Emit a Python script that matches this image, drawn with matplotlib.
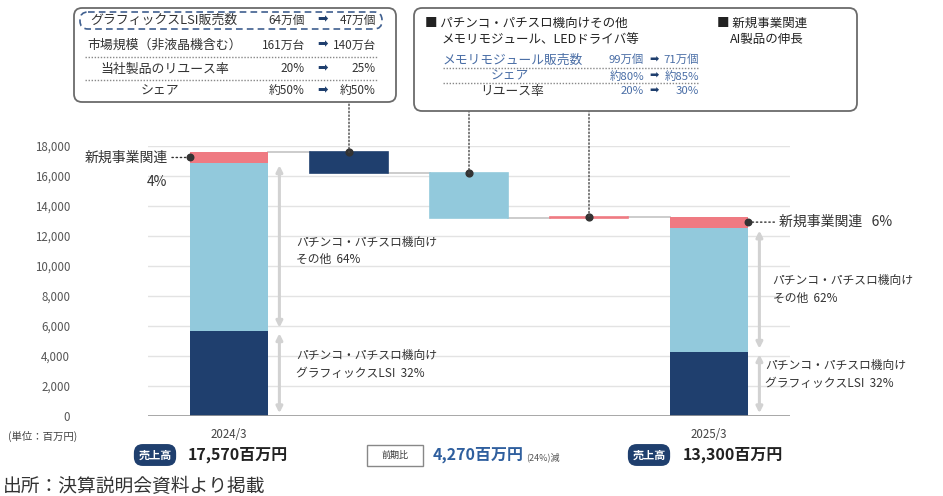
import numpy as np
import matplotlib.pyplot as plt
from matplotlib.patches import FancyBboxPatch, Rectangle, ConnectionPatch
from matplotlib.transforms import blended_transform_factory

plt.rcParams['font.family'] = ['Noto Sans CJK JP', 'DejaVu Sans']

# 売上構成（単位：百万円） 下から グラフィックスLSI / その他 / 新規事業関連
sales_2024 = [5700, 11200, 670]
sales_2025 = [4300, 8250, 750]
share_2024 = ['32%', '64%', '4%']
share_2025 = ['32%', '62%', '6%']
years = ['2024/3', '2025/3']
totals = [17570, 13300]
yoy_diff = '4,270百万円'
yoy_pct = '(24%)減'
yticks = np.arange(0, 18001, 2000)

# 吹き出しの中身
box1_rows = [('グラフィックスLSI販売数', '64万個', '47万個'),
             ('市場規模（非液晶機含む）', '161万台', '140万台'),
             ('当社製品のリユース率', '20%', '25%'),
             ('シェア', '約50%', '約50%')]
box2_rows = [('メモリモジュール販売数', '99万個', '71万個'),
             ('シェア', '約80%', '約85%'),
             ('リユース率', '20%', '30%')]

navy = '#1f3f6e'
lblue = '#92c9dc'
pink = '#ef7a82'
colors = [navy, lblue, pink]
txt = '#333333'
blue_txt = '#4a6ea6'

fig = plt.figure(figsize=(9.43, 4.96), dpi=100)
ax = fig.add_axes([148/943, 80/496, 642/943, 270/496])
ax.set_xlim(-0.675, 4.675)
ax.set_ylim(0, 18000)
w = 0.65

# 年度の積み上げ棒
for x, vals in [(0, sales_2024), (4, sales_2025)]:
    b = 0
    for v, c in zip(vals, colors):
        ax.bar(x, v, w, bottom=b, color=c, zorder=3)
        b += v

# 増減（ウォーターフォール）
deltas = [b - a for a, b in zip(sales_2024, sales_2025)]
level = sum(sales_2024)
tops = []
for i, (d, c) in enumerate(zip(deltas, colors)):
    lo, hi = min(level, level + d), max(level, level + d)
    ax.bar(i + 1, hi - lo, w, bottom=lo, color=c, ec=c, lw=1.2, zorder=3)
    ax.plot([i + w/2, i + 1 - w/2], [level, level], color='#c8c8c8', lw=1.3, zorder=2)
    tops.append(hi)
    level += d
ax.plot([3 + w/2, 4 - w/2], [level, level], color='#c8c8c8', lw=1.3, zorder=2)

# 軸
ax.set_yticks(yticks)
ax.set_yticklabels([f'{v:,}' for v in yticks])
ax.tick_params(axis='y', length=0, pad=56, labelsize=8.3, labelcolor='#555555')
ax.set_xticks([0, 4])
ax.set_xticklabels(years)
ax.tick_params(axis='x', length=0, pad=9, labelsize=8.3, labelcolor='#444444')
ax.grid(axis='y', color='#e3e3e3', lw=1, zorder=0)
for s in ax.spines.values():
    s.set_visible(False)
ax.axhline(0, color='#9a9a9a', lw=1.2, zorder=4)


def span_arrow(x, y0, y1):
    ax.annotate('', xy=(x, y0), xytext=(x, y1),
                arrowprops=dict(arrowstyle='<|-|>', color='#d2d2d2', lw=2.2,
                                mutation_scale=9, shrinkA=2, shrinkB=2),
                zorder=3)


# セグメント注記
for x, vals, shares, dx_txt in [(0, sales_2024, share_2024, 0.56), (4, sales_2025, share_2025, 0.47)]:
    g, o = vals[0], vals[1]
    span_arrow(x + 0.42, 0, g)
    span_arrow(x + 0.42, g, g + o)
    ax.text(x + dx_txt, g / 2 + 600, f'パチンコ・パチスロ機向け\nグラフィックスLSI  {shares[0]}',
            fontsize=8.5, color=txt, va='center', ha='left', linespacing=1.45)
    ax.text(x + (0.56 if x == 0 else 0.53), g + o / 2 - (300 if x == 0 else 0),
            f'パチンコ・パチスロ機向け\nその他  {shares[1]}',
            fontsize=8.5, color=txt, va='center', ha='left', linespacing=1.45)

# 新規事業関連
y24 = sales_2024[0] + sales_2024[1] + sales_2024[2] / 2
ax.scatter([-w/2], [y24], s=22, color='#333333', zorder=6, clip_on=False)
ax.annotate('新規事業関連', xy=(-w/2, y24), xytext=(-16, 0), textcoords='offset points',
            ha='right', va='center', fontsize=10, color=txt,
            arrowprops=dict(arrowstyle='-', linestyle=(0, (1, 2)), color='#333333',
                            shrinkA=1, shrinkB=2))
ax.annotate(share_2024[2], xy=(-w/2, y24), xytext=(-24, -18), textcoords='offset points',
            ha='center', va='center', fontsize=10, color=txt)

y25 = sales_2025[0] + sales_2025[1] + sales_2025[2] / 2
ax.scatter([4 + w/2], [y25], s=22, color='#333333', zorder=6, clip_on=False)
ax.annotate(f'新規事業関連   {share_2025[2]}', xy=(4 + w/2, y25), xytext=(22, 0),
            textcoords='offset points', ha='left', va='center', fontsize=10, color=txt,
            arrowprops=dict(arrowstyle='-', linestyle=(0, (1, 2)), color='#333333',
                            shrinkA=1, shrinkB=2))

# 重ね描き用（ピクセル座標）
ov = fig.add_axes([0, 0, 1, 1], zorder=5)
ov.set_xlim(0, 943)
ov.set_ylim(496, 0)
ov.axis('off')

# 増減バーの点と引き出し線
mix = blended_transform_factory(ax.transData, ov.transData)
ax.scatter([1, 2, 3], tops, s=24, color='#333333', zorder=6)
for i, top, ybox in zip([1, 2, 3], tops, [102, 111, 111]):
    con = ConnectionPatch(xyA=(i, top), coordsA=ax.transData, xyB=(i, ybox), coordsB=mix,
                          linestyle=(0, (1, 1.6)), color='#444444', lw=1)
    fig.add_artist(con)

# 左の吹き出し
ov.add_patch(FancyBboxPatch((74, 8), 322, 94, boxstyle='round,pad=0,rounding_size=8',
                            fc='white', ec='#6b6b6b', lw=1.3))
ov.add_patch(FancyBboxPatch((80, 12), 302, 17, boxstyle='round,pad=0,rounding_size=8',
                            fc='none', ec='#3f5f8f', lw=1.2, ls=(0, (4, 2.5))))
row_y = [20, 45, 69, 91]
row_x = [(90, 'left'), (87, 'left'), (100, 'left'), (160, 'center')]
for (lab, a, b), y, (x, ha) in zip(box1_rows, row_y, row_x):
    ov.text(x, y, lab, fontsize=9.3, color=txt, ha=ha, va='center')
    ov.text(305, y, a, fontsize=8.5, color=txt, ha='right', va='center')
    ov.text(323, y, '➡', fontsize=9, color=navy, ha='center', va='center',
            family=['DejaVu Sans'])
    ov.text(376, y, b, fontsize=8.5, color=txt, ha='right', va='center')
for y in [57, 80]:
    ov.plot([85, 378], [y, y], color='#888888', lw=1, ls=(0, (1, 1.2)))

# 右の吹き出し
ov.add_patch(FancyBboxPatch((414, 8), 443, 103, boxstyle='round,pad=0,rounding_size=8',
                            fc='white', ec='#6b6b6b', lw=1.3))
ov.text(425, 23, '■ パチンコ・パチスロ機向けその他', fontsize=9, color='#222222', va='center')
ov.text(442, 40, 'メモリモジュール、LEDドライバ等', fontsize=9, color='#222222', va='center')
ov.text(717, 23, '■ 新規事業関連', fontsize=9, color='#222222', va='center')
ov.text(730, 39, 'AI製品の伸長', fontsize=9, color='#222222', va='center')
row_y = [60, 76, 91]
row_x = [(443, 'left'), (510, 'center'), (512, 'center')]
row_c = [blue_txt, blue_txt, txt]
for (lab, a, b), y, (x, ha), c in zip(box2_rows, row_y, row_x, row_c):
    ov.text(x, y, lab, fontsize=9.2, color=c, ha=ha, va='center')
    ov.text(644, y, a, fontsize=8.2, color=blue_txt, ha='right', va='center')
    ov.text(654, y, '➡', fontsize=8, color=navy, ha='center', va='center',
            family=['DejaVu Sans'])
    ov.text(699, y, b, fontsize=8.2, color=blue_txt, ha='right', va='center')
for y in [68, 83]:
    ov.plot([443, 699], [y, y], color='#888888', lw=1, ls=(0, (1, 1.2)))

# 下段
ov.text(8, 436, '(単位：百万円)', fontsize=7.5, color='#444444', va='center')
for xb, xt, tot in [(155, 188, totals[0]), (649, 683, totals[1])]:
    ov.text(xb, 455, '売上高', fontsize=8, color='white', weight='bold', ha='center', va='center',
            bbox=dict(boxstyle='round,pad=0.4,rounding_size=0.8', fc=navy, ec='none'))
    ov.text(xt, 455, f'{tot:,}百万円', fontsize=11.5, color='#222222', weight='bold',
            ha='left', va='center')
ov.add_patch(Rectangle((367, 445), 56, 21, fc='white', ec='#888888', lw=1))
ov.text(395, 455.5, '前期比', fontsize=6.5, color=txt, ha='center', va='center')
ov.text(433, 455, yoy_diff, fontsize=11.5, color='#2f5f9e', weight='bold', ha='left', va='center')
ov.text(526, 457, yoy_pct, fontsize=6.5, color='#555555', ha='left', va='center')
ov.text(3, 486, '出所：決算説明会資料より掲載', fontsize=13.5, color='#333333', va='center')

fig.savefig('out.png', dpi=100, facecolor='white')
